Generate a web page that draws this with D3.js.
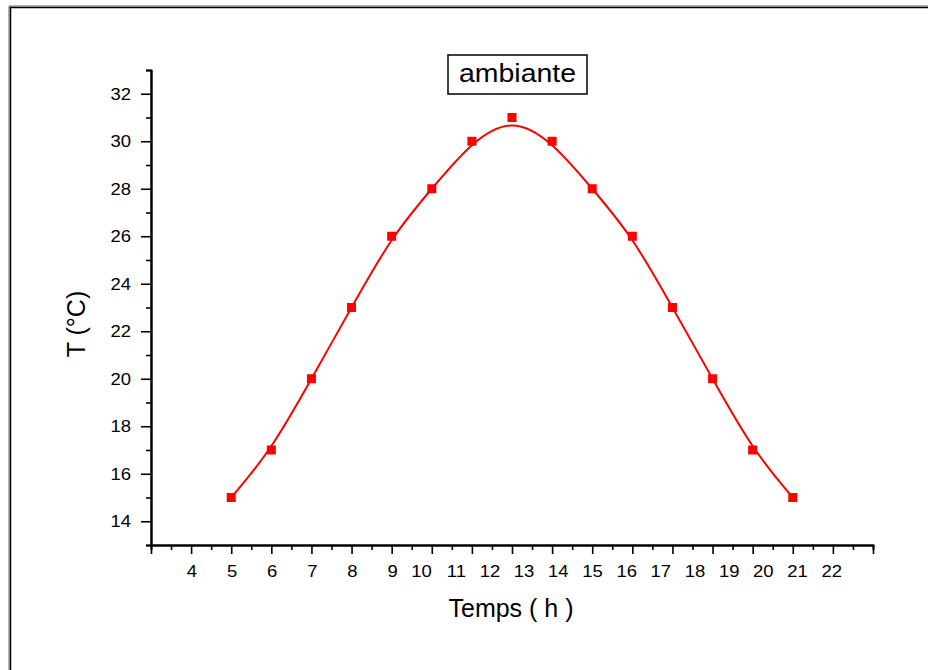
<!DOCTYPE html>
<html>
<head>
<meta charset="utf-8">
<script src="https://cdn.jsdelivr.net/npm/d3@7"></script>
<style>
  html, body { margin: 0; padding: 0; background: #fff; }
  svg { display: block; }
  text { font-family: "Liberation Sans", Arial, sans-serif; fill: #000; }
</style>
</head>
<body>
<svg id="chart" width="928" height="670"></svg>
<script>
// Hourly ambient temperature readings
const hours = [5, 6, 7, 8, 9, 10, 11, 12, 13, 14, 15, 16, 17, 18, 19];
const temps = [15, 17, 20, 23, 26, 28, 30, 31, 30, 28, 26, 23, 20, 17, 15];

// Axis tick labels
const xTickLabels = [4, 5, 6, 7, 8, 9, 10, 11, 12, 13, 14, 15, 16, 17, 18, 19, 20, 21, 22];
const yTickLabels = [14, 16, 18, 20, 22, 24, 26, 28, 30, 32];
const seriesName = "ambiante";
const xTitle = "Temps ( h )";
const yTitle = "T (°C)";

const svg = d3.select("#chart");

// Page frame
svg.append("path")
  .attr("d", "M9,680 V6 H940")
  .attr("fill", "none").attr("stroke", "#666").attr("stroke-width", 1);
svg.append("path")
  .attr("d", "M10.5,680 V7.5 H940")
  .attr("fill", "none").attr("stroke", "#000").attr("stroke-width", 1.5);

const x = d3.scaleLinear().domain([3, 21]).range([151, 873]);
const y = d3.scaleLinear().domain([13, 33]).range([545, 70]);

// X axis: major and minor ticks, labels drawn separately
const xMajor = d3.range(3, 22, 1);
const xMinor = d3.range(3.5, 21, 1);
const xAxisG = svg.append("g").attr("transform", `translate(0,${y(13)})`);
xAxisG.append("g")
  .call(d3.axisBottom(x).tickValues(xMinor).tickSize(5).tickFormat(""));
xAxisG.append("g")
  .call(d3.axisBottom(x).tickValues(xMajor).tickSize(9).tickSizeOuter(0).tickFormat(""));

// Y axis
const yMajor = d3.range(14, 33, 2);
const yMinor = d3.range(13, 34, 2);
const yAxisG = svg.append("g").attr("transform", `translate(${x(3)},0)`);
yAxisG.append("g")
  .call(d3.axisLeft(y).tickValues(yMinor).tickSize(5).tickFormat(""));
yAxisG.append("g")
  .call(d3.axisLeft(y).tickValues(yMajor).tickSize(10).tickSizeOuter(0).tickFormat(""));

svg.selectAll(".domain").attr("stroke", "#000").attr("stroke-width", 2);
svg.selectAll(".tick line").attr("stroke", "#000").attr("stroke-width", 1.6);

// X tick labels
const xLabelPos = d3.scaleLinear()
  .domain([4, 9, 22])
  .range([x(4) + 6, x(9) + 6, x(21) - 31]);
svg.append("g").selectAll("text")
  .data(xTickLabels)
  .join("text")
  .attr("text-anchor", "end")
  .attr("font-size", 16.5)
  .attr("transform", d => `translate(${xLabelPos(d)},${y(13) + 31.5}) scale(1.12,1)`)
  .text(d => d);

// Y tick labels
svg.append("g").selectAll("text")
  .data(yTickLabels)
  .join("text")
  .attr("text-anchor", "end")
  .attr("font-size", 16.5)
  .attr("transform", d => `translate(${x(3) - 20},${y(d) + 6}) scale(1.12,1)`)
  .text(d => d);

// Axis titles
svg.append("text")
  .attr("x", 511).attr("y", 617)
  .attr("text-anchor", "middle")
  .attr("font-size", 25)
  .text(xTitle);
svg.append("text")
  .attr("transform", "translate(85,324) rotate(-90)")
  .attr("text-anchor", "middle")
  .attr("font-size", 25)
  .text(yTitle);

// Series legend box
const legend = svg.append("g");
legend.append("rect")
  .attr("x", 448).attr("y", 55).attr("width", 139).attr("height", 39)
  .attr("fill", "#fff").attr("stroke", "#000").attr("stroke-width", 1.5);
legend.append("text")
  .attr("x", 459).attr("y", 82)
  .attr("font-size", 25)
  .attr("textLength", 117)
  .attr("lengthAdjust", "spacingAndGlyphs")
  .text(seriesName);

// Smoothed curve through the readings
const pts = hours.map((h, i) => [h, temps[i]]);
svg.append("path")
  .datum(pts)
  .attr("fill", "none")
  .attr("stroke", "#ff0000")
  .attr("stroke-width", 2)
  .attr("d", d3.line().x(d => x(d[0])).y(d => y(d[1])).curve(d3.curveBasis));

// Square markers
const m = 9;
svg.append("g").selectAll("rect")
  .data(pts)
  .join("rect")
  .attr("x", d => x(d[0]) - m / 2)
  .attr("y", d => y(d[1]) - m / 2)
  .attr("width", m).attr("height", m)
  .attr("fill", "#ff0000");
</script>
</body>
</html>
